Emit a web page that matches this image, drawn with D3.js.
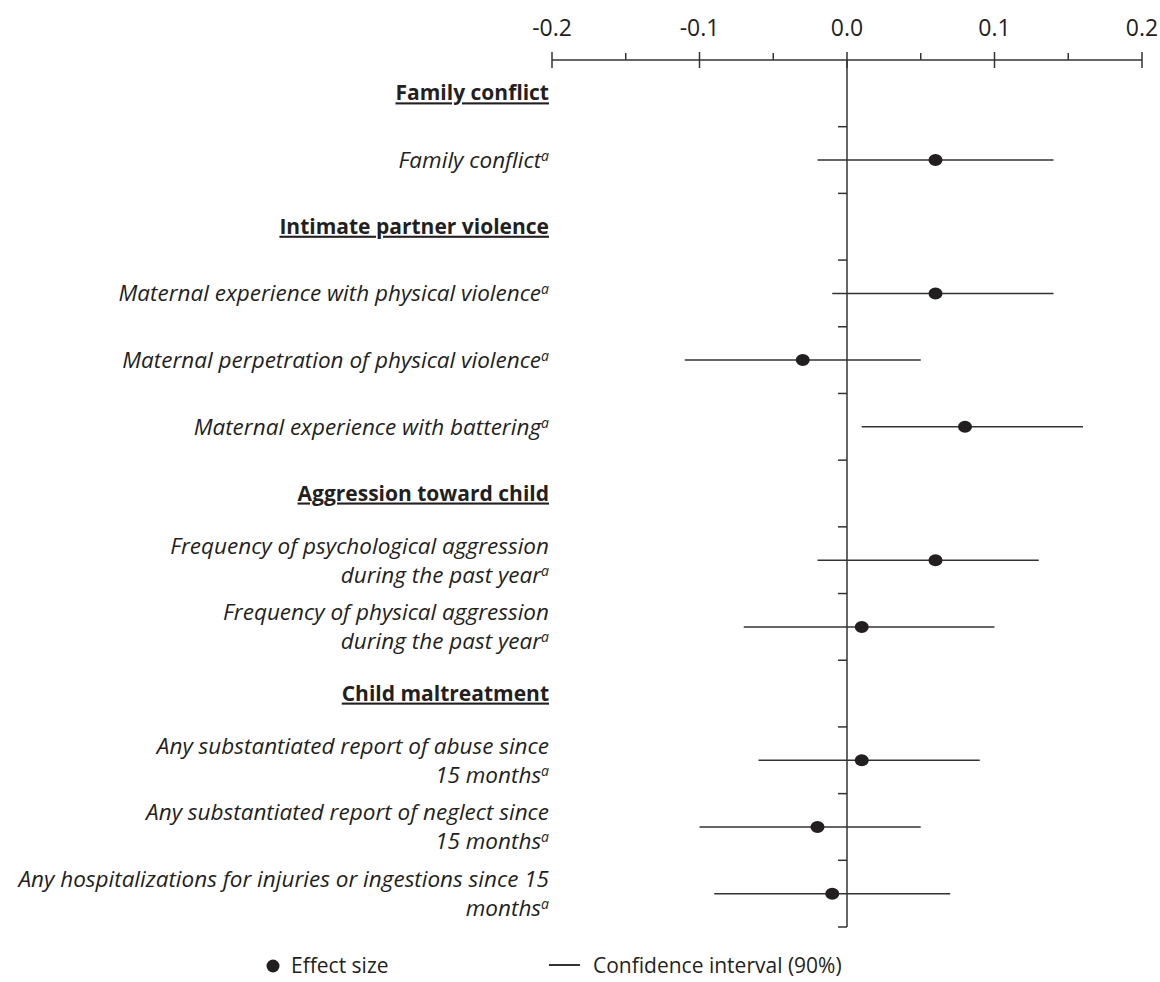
<!DOCTYPE html>
<html>
<head>
<meta charset="utf-8">
<script src="https://cdn.jsdelivr.net/npm/d3@7"></script>
<style>
  body { margin: 0; background: #fff; }
  text { font-family: "Open Sans", "Noto Sans", sans-serif; fill: #231f20; }
</style>
</head>
<body>
<div id="chart-area"></div>
<script>
// rows from top to bottom; headers carry no values
var labels = [
    ["Family conflict"],
    ["Family conflict"],
    ["Intimate partner violence"],
    ["Maternal experience with physical violence"],
    ["Maternal perpetration of physical violence"],
    ["Maternal experience with battering"],
    ["Aggression toward child"],
    ["Frequency of psychological aggression", "during the past year"],
    ["Frequency of physical aggression", "during the past year"],
    ["Child maltreatment"],
    ["Any substantiated report of abuse since", "15 months"],
    ["Any substantiated report of neglect since", "15 months"],
    ["Any hospitalizations for injuries or ingestions since 15", "months"]
];
var isHeader = [true, false, true, false, false, false, true, false, false, true, false, false, false];
var effect = [null, 0.06, null, 0.06, -0.03, 0.08, null, 0.06, 0.01, null, 0.01, -0.02, -0.01];
var ciLow  = [null, -0.02, null, -0.01, -0.11, 0.01, null, -0.02, -0.07, null, -0.06, -0.10, -0.09];
var ciHigh = [null, 0.14, null, 0.14, 0.05, 0.16, null, 0.13, 0.10, null, 0.09, 0.05, 0.07];
var xTicks = [-0.2, -0.1, 0.0, 0.1, 0.2];
var xMinor = [-0.15, -0.05, 0.05, 0.15];

var width = 1160, height = 982;
var svg = d3.select("#chart-area").append("svg")
    .attr("width", width)
    .attr("height", height);

var x = d3.scaleLinear().domain([-0.2, 0.2]).range([552, 1142]);
var y = d3.scaleBand().domain(d3.range(labels.length)).range([60, 927]);
var axisColor = "#333";

// top axis line + ticks
svg.append("line")
    .attr("x1", x(-0.2)).attr("x2", x(0.2))
    .attr("y1", 60).attr("y2", 60)
    .attr("stroke", axisColor).attr("stroke-width", 1.5);
svg.selectAll(".xmajor").data(xTicks).enter().append("line")
    .attr("x1", (d) => x(d)).attr("x2", (d) => x(d))
    .attr("y1", 52).attr("y2", 68)
    .attr("stroke", axisColor).attr("stroke-width", 1.5);
svg.selectAll(".xminor").data(xMinor).enter().append("line")
    .attr("x1", (d) => x(d)).attr("x2", (d) => x(d))
    .attr("y1", 53).attr("y2", 60)
    .attr("stroke", axisColor).attr("stroke-width", 1.5);
svg.selectAll(".xlabel").data(xTicks).enter().append("text")
    .attr("x", (d) => x(d)).attr("y", 36)
    .attr("text-anchor", "middle")
    .style("font-size", "23px")
    .text((d) => d3.format(".1f")(d).replace("−", "-"));

// vertical zero line with ticks at row boundaries
svg.append("line")
    .attr("x1", x(0)).attr("x2", x(0))
    .attr("y1", 60).attr("y2", y.range()[1])
    .attr("stroke", axisColor).attr("stroke-width", 1.5);
var bounds = d3.range(1, labels.length + 1).map((i) => y.range()[0] + i * y.step());
svg.selectAll(".ytick").data(bounds).enter().append("line")
    .attr("x1", x(0) - 9).attr("x2", x(0))
    .attr("y1", (d) => d).attr("y2", (d) => d)
    .attr("stroke", axisColor).attr("stroke-width", 1.5);

// labels
var labelX = 549;
labels.forEach((lines, i) => {
    var cy = y(i) + y.bandwidth() / 2;
    if (isHeader[i]) {
        svg.append("text")
            .attr("x", labelX).attr("y", cy + 7)
            .attr("text-anchor", "end")
            .style("font-size", "21px")
            .style("font-weight", "bold")
            .style("text-decoration", "underline")
            .text(lines[0]);
        return;
    }
    var lh = 29;
    var y0 = cy + 8 - (lines.length - 1) * lh / 2;
    lines.forEach((ln, j) => {
        var t = svg.append("text")
            .attr("x", labelX).attr("y", y0 + j * lh)
            .attr("text-anchor", "end")
            .style("font-size", "22.5px")
            .style("font-style", "italic");
        t.append("tspan").text(ln);
        if (j == lines.length - 1) {
            t.append("tspan")
                .attr("dy", -7)
                .style("font-size", "14px")
                .text("a");
        }
    });
});

// confidence intervals and effect sizes
var rows = d3.range(labels.length).filter((i) => !isHeader[i]);
svg.selectAll(".ci").data(rows).enter().append("line")
    .attr("x1", (i) => x(ciLow[i])).attr("x2", (i) => x(ciHigh[i]))
    .attr("y1", (i) => y(i) + y.bandwidth() / 2)
    .attr("y2", (i) => y(i) + y.bandwidth() / 2)
    .attr("stroke", axisColor).attr("stroke-width", 1.5);
svg.selectAll(".dot").data(rows).enter().append("ellipse")
    .attr("cx", (i) => x(effect[i]))
    .attr("cy", (i) => y(i) + y.bandwidth() / 2)
    .attr("rx", 7).attr("ry", 6)
    .attr("fill", "#231f20");

// legend
svg.append("circle").attr("cx", 273).attr("cy", 966).attr("r", 6.5).attr("fill", "#231f20");
svg.append("text").attr("x", 291).attr("y", 973).style("font-size", "21px").text("Effect size");
svg.append("line").attr("x1", 549).attr("x2", 580).attr("y1", 965).attr("y2", 965)
    .attr("stroke", axisColor).attr("stroke-width", 2);
svg.append("text").attr("x", 593).attr("y", 973).style("font-size", "21px").text("Confidence interval (90%)");
</script>
</body>
</html>
